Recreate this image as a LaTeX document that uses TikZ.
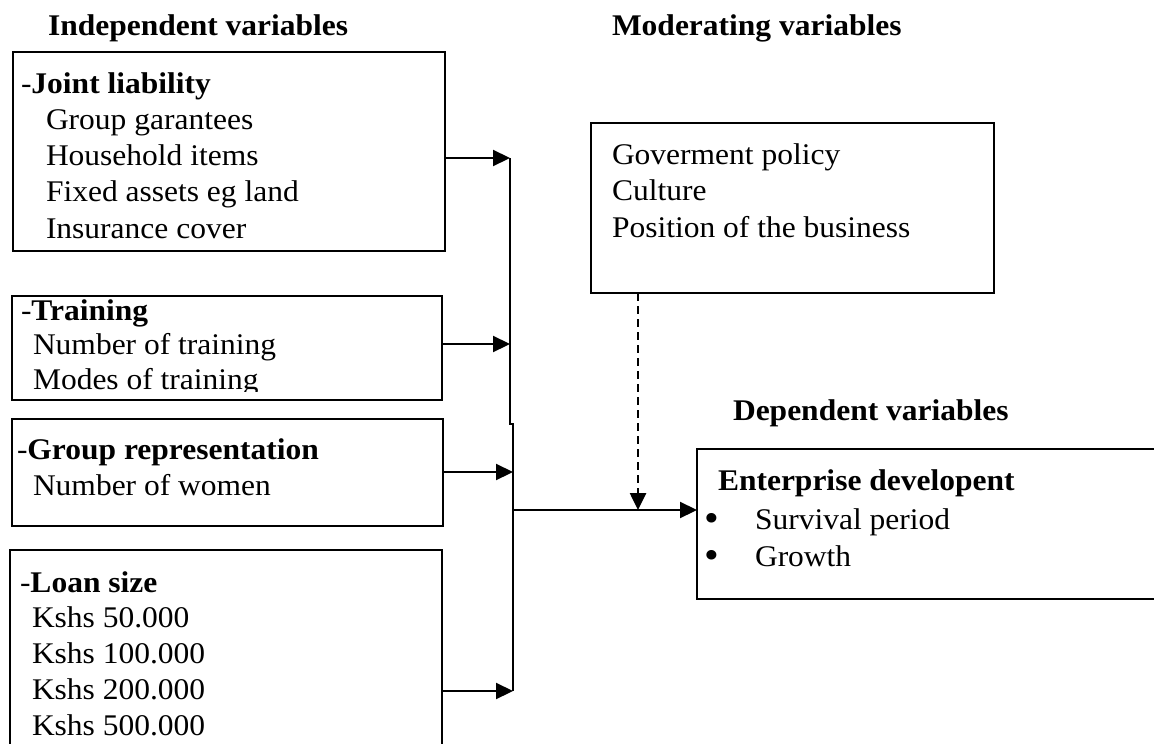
\documentclass[tikz,border=0pt]{standalone}
\usepackage{fontspec}
\setmainfont[FakeStretch=1.05]{Liberation Serif}
\usetikzlibrary{arrows.meta}
\begin{document}
\begin{tikzpicture}[x=1pt,y=-1pt,
  box/.style={draw,line width=2pt,rectangle,inner sep=0pt,outer sep=0pt},
  txt/.style={anchor=base west,inner sep=0pt,outer sep=0pt,font=\fontsize{30pt}{37pt}\selectfont},
  head/.style={txt,font=\fontsize{30pt}{37pt}\selectfont\bfseries},
  bul/.style={anchor=base west,inner sep=0pt,outer sep=0pt,font=\fontsize{40pt}{40pt}\selectfont},
  wire/.style={line width=2.2pt},
  conn/.style={wire,-{Triangle[length=17pt,width=16pt]}},
  dashconn/.style={conn,line width=2.6pt,dash pattern=on 8pt off 5pt}]
\useasboundingbox (0,0) rectangle (1154,744);
\fill[white] (0,0) rectangle (1154,744);

% headings
\node[head] (h1) at (48,35) {Independent variables};
\node[head] (h2) at (612,35) {Moderating variables};
\node[head] (h3) at (733,420) {Dependent variables};

% boxes
\node[box,minimum width=432pt,minimum height=199pt] (jl) at (229,151.5) {};
\node[box,minimum width=430pt,minimum height=104pt] (tr) at (227,348) {};
\node[box,minimum width=431pt,minimum height=107pt] (gr) at (227.5,472.5) {};
\node[box,minimum width=432pt,minimum height=282pt] (ls) at (226,691) {};
\node[box,minimum width=403pt,minimum height=170pt] (mod) at (792.5,208) {};
\node[box,minimum width=483pt,minimum height=150pt] (dep) at (938.5,524) {};

% box 1 text
\node[txt] (t11) at (21,93) {-\textbf{Joint liability}};
\node[txt] (t12) at (46,129) {Group garantees};
\node[txt] (t13) at (46,165) {Household items};
\node[txt] (t14) at (46,201) {Fixed assets eg land};
\node[txt] (t15) at (46,238) {Insurance cover};

% box 2 text
\begin{scope}
\clip (12,296) rectangle (442,391);
\node[txt] (t21) at (21,320) {-\textbf{Training}};
\node[txt] (t22) at (33,354) {Number of training};
\node[txt] (t23) at (33,389) {Modes of training};
\end{scope}

% box 3 text
\node[txt] (t31) at (17,459) {-\textbf{Group representation}};
\node[txt] (t32) at (33,495) {Number of women};

% box 4 text
\node[txt] (t41) at (20,592) {-\textbf{Loan size}};
\node[txt] (t42) at (32,627) {Kshs 50.000};
\node[txt] (t43) at (32,663) {Kshs 100.000};
\node[txt] (t44) at (32,699) {Kshs 200.000};
\node[txt] (t45) at (32,735) {Kshs 500.000};

% moderating text
\node[txt] (m1) at (612,164) {Goverment policy};
\node[txt] (m2) at (612,200) {Culture};
\node[txt] (m3) at (612,237) {Position of the business};

% dependent text
\node[head] (d1) at (718,490) {Enterprise developent};
\node[bul] (b1) at (704,531) {•};
\node[txt] (d2) at (755,529) {Survival period};
\node[bul] (b2) at (704,568) {•};
\node[txt] (d3) at (755,566) {Growth};

% junction coordinates
\coordinate (j1) at (510,158);
\coordinate (j2) at (510,344);
\coordinate (jtop) at (510,424);
\coordinate (jbend) at (513,424);
\coordinate (j3) at (513,472);
\coordinate (j4) at (513,691);
\coordinate (jout) at (513,510);
\coordinate (dx) at (638,0);

% connectors
\draw[wire] (j1) -- (jtop) -- (jbend) -- (j4);
\draw[conn] (jl.east |- j1) -- (j1);
\draw[conn] (tr.east |- j2) -- (j2);
\draw[conn] (gr.east |- j3) -- (j3);
\draw[conn] (ls.east |- j4) -- (j4);
\draw[conn] (jout) -- (dep.west |- jout);
\draw[dashconn] (mod.south -| dx) -- (jout -| dx);
\end{tikzpicture}
\end{document}
